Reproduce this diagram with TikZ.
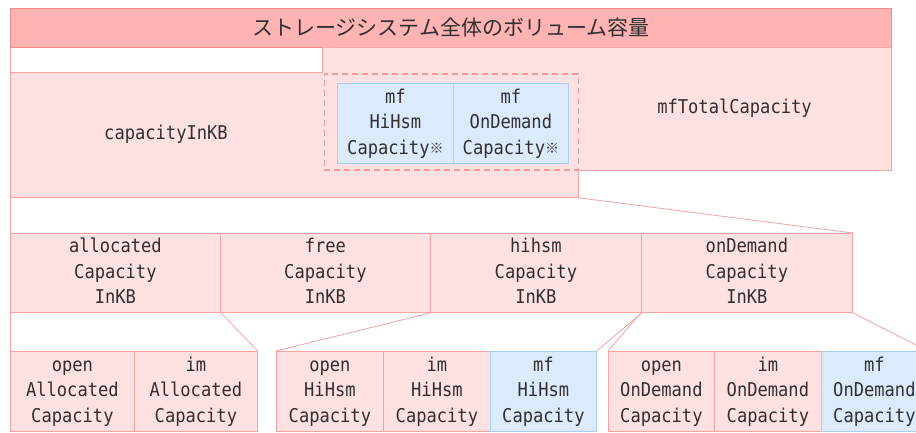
\documentclass[tikz,border=0pt]{standalone}
\usepackage{fontspec}
\newfontfamily\mono[FakeStretch=0.9]{DejaVu Sans Mono}
\newfontfamily\cjk{Noto Sans CJK JP}
\definecolor{titlefill}{HTML}{FFB3B3}
\definecolor{titleline}{HTML}{F28A8A}
\definecolor{palefill}{HTML}{FFE1E1}
\definecolor{paleline}{HTML}{F5A3A3}
\definecolor{dashline}{HTML}{F49A9A}
\definecolor{bluefill}{HTML}{DCEBFC}
\definecolor{blueline}{HTML}{A8CEF2}
\definecolor{txtgray}{HTML}{303030}
\newcommand{\kome}{\raisebox{1pt}{\cjk\fontsize{14}{14}\selectfont ※}}
\newcommand{\threelines}[3]{\strut #1\\\strut #2\\\strut #3}
\tikzset{
  box/.style={rectangle, inner sep=0pt, anchor=north west, line width=0.8pt,
    font=\mono\fontsize{19}{25.5}\selectfont, text=txtgray, align=center},
  pinkbox/.style={box, draw=paleline, fill=palefill},
  bluebox/.style={box, draw=blueline, fill=bluefill},
  fillonly/.style={box, fill=palefill},
  lbl/.style={inner sep=0pt, font=\mono\fontsize{19}{25.5}\selectfont, text=txtgray, align=center},
  link/.style={draw=paleline, line width=0.8pt},
  dashbox/.style={draw=dashline, line width=1.5pt, dash pattern=on 6pt off 4pt}
}
\begin{document}
\begin{tikzpicture}[x=1pt,y=-1pt]
\useasboundingbox (0,0) rectangle (916,432);
\clip (0,0) rectangle (916,432);
\fill[white] (0,0) rectangle (916,432);
% top area
\node[rectangle, inner sep=0pt, anchor=north west, draw=titleline, fill=titlefill, line width=1pt,
  minimum width=881pt, minimum height=39pt, text=txtgray,
  font=\cjk\fontsize{21}{21}\selectfont] (title) at (10,8) {ストレージシステム全体のボリューム容量};
\node[fillonly, minimum width=569pt, minimum height=123pt] (mftotal) at (322,47) {};
\node[fillonly, minimum width=568pt, minimum height=125pt] (capkb) at (10,72) {};
\draw[link] (mftotal.north west) -- (mftotal.north east) -- (mftotal.south east)
  -- (capkb.east |- mftotal.south) -- (capkb.south east) -- (capkb.south west)
  -- (capkb.north west) -- (mftotal.west |- capkb.north) -- cycle;
\draw[link] (title.south west) -- (capkb.north west);
\node[dashbox, rectangle, inner sep=0pt, anchor=north west, minimum width=254pt, minimum height=96pt] (overlap) at (323.5,73) {};
\node[lbl] (capkblabel) at (166,134.5) {capacityInKB};
\node[lbl] (mftotallabel) at (734.5,108.5) {mfTotalCapacity};
\node[bluebox, minimum width=116pt, minimum height=80pt] (mfhihsmtop) at (337,83) {\threelines{mf}{HiHsm}{Capacity\kome}};
\node[bluebox, minimum width=115pt, minimum height=80pt] (mfodtop) at (453,83) {\threelines{mf}{OnDemand}{Capacity\kome}};
% second row
\node[pinkbox, minimum width=210pt, minimum height=79pt] (alloc) at (10,233) {\threelines{allocated}{Capacity}{InKB}};
\node[pinkbox, minimum width=210pt, minimum height=79pt] (free) at (220,233) {\threelines{free}{Capacity}{InKB}};
\node[pinkbox, minimum width=211pt, minimum height=79pt] (hihsm) at (430,233) {\threelines{hihsm}{Capacity}{InKB}};
\node[pinkbox, minimum width=211pt, minimum height=79pt] (ondemand) at (641,233) {\threelines{onDemand}{Capacity}{InKB}};
% third row
\node[pinkbox, minimum width=124pt, minimum height=80pt] (openalloc) at (10,351) {\threelines{open}{Allocated}{Capacity}};
\node[pinkbox, minimum width=123pt, minimum height=80pt] (imalloc) at (134,351) {\threelines{im}{Allocated}{Capacity}};
\node[pinkbox, minimum width=107pt, minimum height=80pt] (openhi) at (276,351) {\threelines{open}{HiHsm}{Capacity}};
\node[pinkbox, minimum width=107pt, minimum height=80pt] (imhi) at (383,351) {\threelines{im}{HiHsm}{Capacity}};
\node[bluebox, minimum width=106pt, minimum height=80pt] (mfhi) at (490,351) {\threelines{mf}{HiHsm}{Capacity}};
\node[pinkbox, minimum width=106pt, minimum height=80pt] (openod) at (608,351) {\threelines{open}{OnDemand}{Capacity}};
\node[pinkbox, minimum width=107pt, minimum height=80pt] (imod) at (714,351) {\threelines{im}{OnDemand}{Capacity}};
\node[bluebox, minimum width=106pt, minimum height=80pt] (mfod) at (821,351) {\threelines{mf}{OnDemand}{Capacity}};
% connectors
\draw[link] (capkb.south west) -- (alloc.north west);
\draw[link] (capkb.south east) -- (ondemand.north east);
\draw[link] (alloc.south west) -- (openalloc.north west);
\draw[link] (alloc.south east) -- (imalloc.north east);
\draw[link] (free.south east) -- (openhi.north west);
\draw[link] (hihsm.south east) -- (mfhi.north east);
\draw[link] (ondemand.south west) -- (openod.north west);
\draw[link] (ondemand.south east) -- (mfod.north east);
\end{tikzpicture}
\end{document}
